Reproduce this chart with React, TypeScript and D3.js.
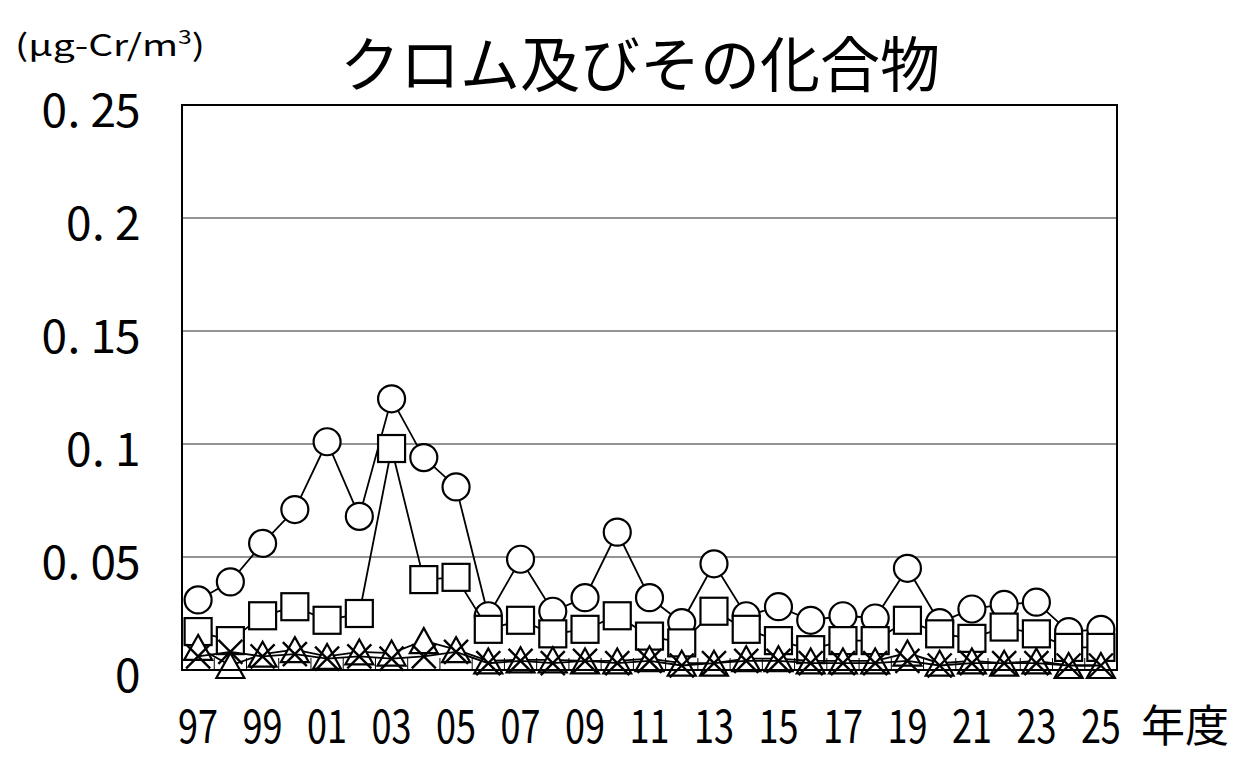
import { line, scaleBand, scaleLinear } from "d3";

const years = [
  1997, 1998, 1999, 2000, 2001, 2002, 2003, 2004, 2005, 2006, 2007, 2008, 2009, 2010, 2011,
  2012, 2013, 2014, 2015, 2016, 2017, 2018, 2019, 2020, 2021, 2022, 2023, 2024, 2025,
];

// maximum (circles)
const maxValues = [
  0.031, 0.039, 0.056, 0.071, 0.101, 0.068, 0.12, 0.094, 0.081, 0.024, 0.049, 0.026, 0.032, 0.061,
  0.032, 0.021, 0.047, 0.024, 0.028, 0.022, 0.024, 0.023, 0.045, 0.021, 0.027, 0.029, 0.03, 0.017,
  0.018,
];

// mean (squares)
const meanValues = [
  0.017, 0.013, 0.024, 0.028, 0.022, 0.025, 0.098, 0.04, 0.041, 0.018, 0.022, 0.016, 0.018, 0.024,
  0.015, 0.012, 0.026, 0.018, 0.013, 0.009, 0.013, 0.013, 0.022, 0.016, 0.014, 0.019, 0.016, 0.01,
  0.01,
];

// minimum (triangles)
const minValues = [
  0.01, 0.002, 0.007, 0.009, 0.006, 0.008, 0.0075, 0.013, 0.009, 0.004, 0.0045, 0.0045, 0.004,
  0.004, 0.005, 0.003, 0.003, 0.005, 0.005, 0.004, 0.004, 0.004, 0.0075, 0.003, 0.004, 0.003, 0.004,
  0.002, 0.002,
];

// crosses
const crossValues = [
  0.006, 0.008, 0.006, 0.007, 0.005, 0.006, 0.005, 0.006, 0.008, 0.003, 0.004, 0.003, 0.004, 0.003,
  0.004, 0.002, 0.003, 0.004, 0.004, 0.003, 0.003, 0.003, 0.004, 0.002, 0.003, 0.003, 0.003, 0.002,
  0.002,
];

const yTicks = [0, 0.05, 0.1, 0.15, 0.2, 0.25];
const yTickLabels = ["0", "0.05", "0.1", "0.15", "0.2", "0.25"];
const xLabelYears = years.filter((_, i) => i % 2 === 0);

const title = "クロム及びその化合物";
const unitLabel = "(μg-Cr/m";
const xAxisTitle = "年度";

const FONT = "'Noto Sans CJK JP', 'Noto Sans', sans-serif";

type Pt = { year: number; value: number };

function toPoints(values: number[]): Pt[] {
  return values.map((value, i) => ({ year: years[i], value }));
}

export default function App() {
  const width = 1251;
  const height = 777;
  const plot = { left: 182, right: 1117, top: 105, bottom: 670 };

  const x = scaleBand<number>().domain(years).range([plot.left, plot.right]).padding(0);
  const y = scaleLinear().domain([0, 0.25]).range([plot.bottom, plot.top]);
  const cx = (yr: number) => (x(yr) ?? plot.left) + x.bandwidth() / 2;

  const path = line<Pt>()
    .x((d) => cx(d.year))
    .y((d) => y(d.value));

  const stroke = "#000";

  const series = [
    { key: "max", pts: toPoints(maxValues), shape: "circle" },
    { key: "mean", pts: toPoints(meanValues), shape: "square" },
    { key: "min", pts: toPoints(minValues), shape: "triangle" },
    { key: "cross", pts: toPoints(crossValues), shape: "cross" },
  ];

  const marker = (shape: string, px: number, py: number, key: string) => {
    if (shape === "circle")
      return <circle key={key} cx={px} cy={py} r={13.5} fill="#fff" stroke={stroke} strokeWidth={2.2} />;
    if (shape === "square")
      return (
        <rect key={key} x={px - 13.5} y={py - 13.5} width={27} height={27} fill="#fff" stroke={stroke} strokeWidth={2.2} />
      );
    if (shape === "triangle")
      return (
        <path
          key={key}
          d={`M${px},${py - 12.5}L${px + 14},${py + 12.5}L${px - 14},${py + 12.5}Z`}
          fill="#fff"
          stroke={stroke}
          strokeWidth={2.2}
        />
      );
    return (
      <path
        key={key}
        d={`M${px - 12},${py - 12}L${px + 12},${py + 12}M${px - 12},${py + 12}L${px + 12},${py - 12}`}
        fill="none"
        stroke={stroke}
        strokeWidth={2.4}
      />
    );
  };

  // monospace-like cells for the y tick labels (period sits left in its cell)
  const cellW = 24.5;
  const labelRight = 140;

  return (
    <svg
      width={width}
      height={height}
      viewBox={`0 0 ${width} ${height}`}
      style={{ position: "absolute", left: 0, top: 0, background: "#fff" }}
      fontFamily={FONT}
    >
      <rect x={0} y={0} width={width} height={height} fill="#fff" />

      {/* gridlines */}
      {yTicks.slice(1, -1).map((t) => (
        <line key={t} x1={plot.left} x2={plot.right} y1={y(t)} y2={y(t)} stroke="#707070" strokeWidth={1.6} />
      ))}

      {/* inside ticks on the category axis */}
      {years.slice(1).map((yr) => (
        <line
          key={yr}
          x1={x(yr)}
          x2={x(yr)}
          y1={plot.bottom}
          y2={plot.bottom - 12}
          stroke="#000"
          strokeWidth={1}
        />
      ))}

      {/* series */}
      {series.map((s) => (
        <g key={s.key}>
          <path d={path(s.pts) ?? ""} fill="none" stroke={stroke} strokeWidth={1.8} />
          {s.pts.map((d) => marker(s.shape, cx(d.year), y(d.value), `${s.key}-${d.year}`))}
        </g>
      ))}

      {/* plot frame */}
      <rect
        x={plot.left}
        y={plot.top}
        width={plot.right - plot.left}
        height={plot.bottom - plot.top}
        fill="none"
        stroke="#000"
        strokeWidth={2}
      />

      {/* y tick labels */}
      {yTicks.map((t, ti) => {
        const label = yTickLabels[ti];
        const chars = label.split("");
        const start = labelRight - chars.length * cellW;
        return (
          <g key={t} fontSize={46} fill="#000">
            {chars.map((c, i) => {
              const left = start + i * cellW;
              return (
                <text
                  key={i}
                  x={c === "." ? left + 1 : left + cellW / 2}
                  y={y(t) + 2}
                  textAnchor={c === "." ? "start" : "middle"}
                  dominantBaseline="central"
                >
                  {c}
                </text>
              );
            })}
          </g>
        );
      })}

      {/* x tick labels */}
      {xLabelYears.map((yr) => (
        <text
          key={yr}
          x={cx(yr)}
          y={723}
          textAnchor="middle"
          dominantBaseline="central"
          fontSize={46}
          textLength={40}
          lengthAdjust="spacingAndGlyphs"
        >
          {String(yr % 100).padStart(2, "0")}
        </text>
      ))}

      <text x={1185} y={723} textAnchor="middle" dominantBaseline="central" fontSize={44}>
        {xAxisTitle}
      </text>

      {/* title */}
      <text x={640} y={60} textAnchor="middle" dominantBaseline="central" fontSize={60}>
        {title}
      </text>

      {/* unit */}
      <g transform="translate(15,43) scale(1.3,1)">
        <text x={0} y={0} fontSize={30} dominantBaseline="central">
          {unitLabel}
          <tspan fontSize={19} dy={-8}>
            3
          </tspan>
          <tspan dy={8}>)</tspan>
        </text>
      </g>
    </svg>
  );
}
